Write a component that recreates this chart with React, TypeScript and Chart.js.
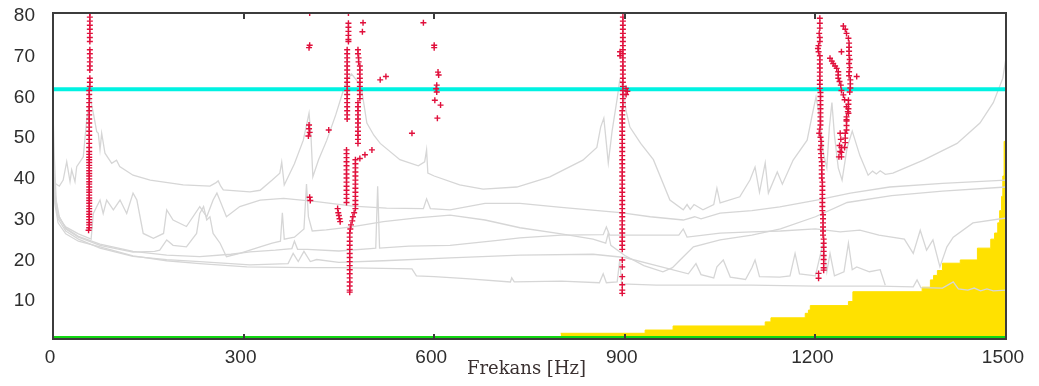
import { useEffect, useRef } from "react";
import { Chart, registerables } from "chart.js";

Chart.register(...registerables);

// ---------- axes ----------
const xMin = 0;
const xMax = 1500;
const yMin = 0;
const yMax = 80;
const xTickValues = [0, 300, 600, 900, 1200, 1500];
const yTickValues = [10, 20, 30, 40, 50, 60, 70, 80];
const xTitle = "Frekans [Hz]";

// ---------- reference levels ----------
const thresholdLevel = 61.3;
const baseLevel = 0;

// ---------- yellow stepped area: [start Hz, level] ----------
const yellowSteps: [number, number][] = [
  [799, 1.4], [932, 2.2], [976, 3.2], [1121, 4.2], [1130, 5.2], [1184, 6.3], [1189, 7.1],
  [1192, 8.2], [1252, 9.2], [1259, 11.6], [1368, 12.7], [1381, 14.5], [1386, 15.6],
  [1392, 16.8], [1400, 18.6], [1428, 19.4], [1455, 22.3], [1476, 24.5], [1482, 26],
  [1487, 28.5], [1490, 31.5], [1493, 35], [1495, 40], [1497, 48.5], [1500, 48.5],
];

// ---------- gray response curves: [Hz, value] ----------
const grayCurve1: [number, number][] = [
  [0, 39], [3, 38.2], [10, 37.5], [16, 39], [21.6, 43.5], [26.8, 38.6], [29.4, 41.5], [34.6, 38.6],
  [37.3, 42.3], [47.7, 44.7], [53, 53.7], [58.3, 59.5], [64, 55], [68.8, 50.9], [71.3, 50.5],
  [74, 46.4], [76.6, 50.5], [81.8, 45.6], [92.4, 43.1], [100, 43.9], [105, 42.3], [126, 40.2],
  [153, 39], [205, 37.8], [247, 37.5], [256, 38.3], [260, 38.8], [264, 37.5], [268, 36.6],
  [310, 36.1], [326, 36.5], [345, 39], [357, 40.7], [360, 43.4], [364, 37.8], [380, 43],
  [394, 48.8], [403, 55.4], [406, 50], [409, 39.8], [418, 44], [431, 48.8], [445, 55], [455, 60],
  [462, 63.5], [470, 65], [478, 63.5], [486, 61], [494, 53], [505, 50], [515, 48], [546, 44],
  [575, 42.5], [585, 43.5], [588, 46.4], [590, 40.7], [600, 40], [640, 37.8], [677, 36.8],
  [730, 37.3], [782, 39.8], [834, 43.9], [856, 47], [862, 52], [867, 54.2], [871, 48], [874, 43.2],
  [880, 51], [888, 59], [892, 63.5], [897, 62], [902, 56], [908, 52], [925, 48], [945, 44],
  [971, 34.1], [992, 31.7], [998, 33], [1003, 31.8], [1009, 33], [1023, 31.7], [1040, 33],
  [1045, 37], [1050, 33.4], [1081, 34.9], [1097, 39], [1105, 42.2], [1112, 36], [1121, 43.2],
  [1126, 35.8], [1140, 41], [1148, 38], [1165, 43.9], [1187, 48.8], [1195, 55], [1201, 59.4],
  [1206, 55], [1212, 46], [1218, 42], [1222, 52], [1226, 58], [1230, 50], [1236, 42], [1242, 39],
  [1250, 47], [1258, 51], [1270, 45], [1283, 40.2], [1290, 41.2], [1296, 40.5], [1302, 41.3],
  [1310, 40.4], [1322, 40.7], [1370, 43.9], [1423, 48], [1459, 53], [1480, 58], [1495, 64], [1500, 69],
];

const grayCurve2: [number, number][] = [
  [0, 44], [3, 35], [8, 30], [20, 27.5], [40, 25.8], [60, 24.5], [63.5, 30.8], [74, 34.1],
  [79, 30.8], [84.5, 34.1], [95, 31.7], [105.5, 34.1], [116, 30.8], [126, 35.8], [132, 34.1],
  [142, 25.9], [158, 24.7], [174, 25.9], [179, 31.7], [189, 29.2], [210, 27.6], [231, 32.5],
  [242, 30], [252, 34.1], [258, 35.8], [273, 30], [294, 32.5], [326, 34.1], [363, 34.5],
  [415, 33.7], [472, 32.6], [525, 32.1], [583, 32], [588, 34.4], [594, 32], [625, 31.7],
  [680, 33.3], [735, 33.3], [800, 32.3], [893, 31], [940, 30], [992, 29.2], [1010, 30],
  [1020, 29.5], [1050, 30.9], [1100, 31.5], [1144, 32.4], [1202, 34.1], [1255, 35.8],
  [1317, 37.3], [1400, 38.2], [1500, 39],
];

const grayCurve3: [number, number][] = [
  [0, 56], [2, 45], [5, 34], [10, 30], [20, 27], [40, 25], [74, 23], [126, 21.3], [160, 21.5],
  [168, 21.8], [179, 24.3], [189, 23], [210, 22.6], [226, 25.9], [231, 30.8], [237, 32.5],
  [242, 29.2], [247, 30], [252, 25.9], [263, 23.5], [273, 20.2], [294, 21], [326, 22.6],
  [345, 23.5], [358, 24], [361, 31], [364, 24.5], [380, 25], [395, 27], [399, 38], [402, 30],
  [408, 26.5], [430, 26.8], [470, 27.5], [520, 28.8], [573, 29.7], [625, 30.4], [680, 29.2],
  [735, 27.3], [800, 25.8], [850, 24.5], [870, 23.5], [874, 26], [878, 23], [900, 20.5],
  [930, 18], [960, 16.5], [975, 17.5], [987, 19.4], [1008, 22.6], [1050, 24.3], [1100, 25.5],
  [1145, 27], [1200, 30], [1250, 33.5], [1320, 35.2], [1400, 36.3], [1500, 37.3],
];

const grayCurve4: [number, number][] = [
  [0, 46], [3, 36], [8, 30.5], [20, 27.2], [40, 25.2], [74, 23.3], [126, 21.5], [179, 20.6],
  [231, 20.2], [280, 20.8], [310, 21.4], [350, 21.8], [376, 22.2], [380, 24], [385, 22],
  [400, 22], [450, 21.6], [500, 22.2], [508, 22.3], [511, 37.5], [514, 22.3], [560, 22.8],
  [625, 23], [700, 24.2], [735, 24.8],
  [800, 25.5], [866, 25.6], [871, 27.5], [876, 25.5], [920, 25.5], [985, 25.5], [992, 27],
  [998, 25], [1050, 26], [1100, 26.3], [1145, 26.5], [1200, 27], [1239, 26.3], [1270, 26.7],
  [1300, 25.5], [1340, 24.5], [1354, 21], [1365, 26.7], [1375, 21.8], [1385, 24.3],
  [1396, 17.7], [1407, 22.6], [1417, 25], [1448, 28.5], [1500, 29.7],
];

const grayCurve5: [number, number][] = [
  [0, 42], [3, 34], [8, 29.5], [20, 26.5], [40, 24.5], [74, 22.3], [126, 20.3], [179, 19.5],
  [231, 19], [310, 18.2], [370, 18.5], [378, 21], [386, 19], [395, 21.5], [405, 19], [415, 19.5],
  [450, 18.8], [520, 19.2], [625, 19.9], [735, 20.6], [850, 20.8], [900, 20], [950, 18],
  [1000, 16], [1012, 18.5], [1020, 15.8], [1040, 15], [1045, 17.7], [1055, 19.4], [1066, 15.2],
  [1090, 14.6], [1100, 17.5], [1105, 19.4], [1112, 15.3], [1144, 15.2], [1160, 15.5],
  [1168, 21], [1175, 16], [1200, 15.5], [1212, 23.5], [1218, 16.5], [1223, 21], [1230, 15.5],
  [1245, 16.5], [1252, 23.5], [1258, 17], [1265, 17.7], [1285, 16.5], [1302, 17], [1310, 13.2],
];

const grayCurve6: [number, number][] = [
  [0, 40], [3, 33], [8, 28.5], [20, 25.8], [40, 24], [74, 22.6], [126, 20.4], [179, 19.2],
  [231, 18.5], [305, 17.7], [400, 17.5], [450, 17.5], [565, 17.2], [572, 15.5], [600, 15.3],
  [650, 14.8], [720, 14], [722, 15], [726, 14], [800, 14.2], [860, 13.8], [866, 16], [871, 13.8],
  [888, 14], [892, 19.4], [895, 13.5], [950, 13.2], [1000, 13.2], [1100, 13.2], [1200, 13],
  [1300, 13], [1354, 12.8], [1360, 14.5], [1366, 12.6], [1400, 12.5], [1417, 14], [1425, 12.3],
  [1440, 12], [1450, 12.5], [1460, 11.8], [1470, 12.3], [1480, 11.8], [1500, 12],
];

// ---------- red markers: [Hz, value] ----------
const markersNear60: [number, number][] = [
  [58, 80], [58, 79], [58, 78], [58, 77], [58, 76], [58, 75], [58, 74], [58, 73], [58, 71], [58, 70],
  [58, 69], [58, 68], [58, 67], [58, 66], [58, 64], [58, 63], [58, 62], [57, 61], [57, 60], [57, 59],
  [57, 58], [57, 57], [57, 56], [57, 55], [57, 54], [57, 53], [57, 52], [57, 51], [57, 50], [57, 49],
  [57, 48], [57, 47], [57, 46], [57, 45.3], [57, 44.6], [57, 44], [57, 43.3], [57, 42.6], [57, 42],
  [57, 41.3], [57, 40.6], [57, 40], [57, 39.3], [57, 38.6], [57, 38], [57, 37.3], [57, 36.6],
  [57, 36], [57, 35.3], [57, 34.6], [57, 34], [57, 33.3], [57, 32.6], [57, 32], [57, 31.3],
  [57, 30.6], [57, 30], [57, 29.3], [57, 28.6], [57, 28], [57, 27.3], [56, 26.7],
];

const markersNear400: [number, number][] = [
  [404, 80], [404, 72.1], [403, 71.5], [403, 52.5], [403, 51.6], [404, 50.7], [402, 49.8],
  [404, 34.8], [405, 34.0], [434, 51.3], [448, 32], [449, 31], [450, 30.3], [451, 29.5], [452, 28.8],
];

const markersNear470: [number, number][] = [
  [465, 80], [465, 77.5], [465, 76.5], [465, 75.5], [465, 74.5], [465, 73.5], [465, 73],
  [463, 71], [463, 70], [463, 69], [463, 68], [463, 67], [463, 66], [463, 65], [463, 64], [463, 63],
  [463, 62], [463, 61], [463, 60], [463, 59], [463, 58], [463, 57], [463, 56], [463, 55], [463, 54],
  [462, 46.4], [462, 45.5], [462, 44.5], [462, 43.5], [462, 42.5], [462, 41.5], [462, 40.5],
  [462, 39.5], [462, 38.5], [462, 37.5], [462, 36.5], [462, 35.5], [462, 34.5], [462, 33.5],
  [469, 28], [468, 27], [467, 26], [467, 25], [467, 24], [467, 23], [467, 22], [467, 21], [467, 20],
  [467, 19], [467, 18], [467, 17], [467, 16], [467, 15], [467, 14], [467, 13], [467, 12], [467, 11.5],
  [480, 71], [480, 70], [481, 69], [481, 68], [483, 67], [483, 66], [483, 65], [483, 64], [483, 63],
  [483, 62], [483, 61], [483, 60], [483, 59], [480, 58], [480, 57], [480, 56], [480, 55], [480, 54],
  [480, 53], [480, 52], [480, 51], [480, 50], [480, 49], [480, 48],
  [476, 44], [476, 43], [476, 42], [476, 41], [476, 40], [476, 39], [476, 38], [476, 37], [476, 36],
  [476, 35], [476, 34], [476, 33], [476, 32], [474, 31], [472, 30], [471, 29],
  [483, 44.3], [491, 45.2], [502, 46.4], [488, 77.6], [487, 75.4], [515, 63.6], [524, 64.4],
];

const markersNear600: [number, number][] = [
  [583, 77.6], [565, 50.5], [600, 72.1], [600, 71.5], [606, 65.5], [607, 64.8], [604, 62.3],
  [603, 61.4], [604, 60.6], [601, 58.6], [610, 57.4], [605, 54.2],
];

const markersNear900: [number, number][] = [
  [897, 79], [897, 78], [897, 77], [897, 76], [897, 75], [897, 74], [897, 73], [897, 72], [897, 71],
  [897, 70], [897, 69], [897, 68], [897, 67], [897, 66], [897, 65], [897, 64], [897, 63], [897, 62],
  [897, 61], [897, 60], [897, 59], [897, 58], [897, 57], [896, 56], [896, 55], [896, 54], [896, 53],
  [896, 52], [896, 51], [896, 50], [896, 49], [896, 48], [896, 47], [896, 46], [896, 45], [896, 44],
  [896, 43], [896, 42], [896, 41], [896, 40], [896, 39], [896, 38], [896, 37], [896, 36], [896, 35],
  [896, 34], [896, 33], [896, 32], [896, 31], [896, 30], [896, 29], [896, 28], [896, 27], [896, 26],
  [896, 25], [896, 24], [896, 23], [896, 22], [896, 19.4], [896, 17.7], [896, 15.3], [896, 13.3],
  [896, 12], [896, 11.2], [892.5, 70.5], [892.5, 69.5], [902, 61.5], [904, 60.8], [902, 60],
];

const markersNear1210: [number, number][] = [
  [1207, 78.7], [1207, 77.5], [1207, 76.3], [1206, 75], [1207, 74], [1207, 73], [1205, 72],
  [1204, 71.3], [1205, 70.5], [1207, 69.5], [1207, 68.5], [1207, 67.5], [1207, 66.5], [1207, 65.5],
  [1207, 64.5], [1207, 63.5], [1207, 62.5], [1207, 61.5], [1208, 60.5], [1208, 59.5], [1208, 58.5],
  [1208, 57.5], [1208, 56.5], [1208, 55.5], [1208, 54.5], [1208, 53.5], [1208, 52.5], [1207, 51.5],
  [1206, 50.5], [1208, 49.5], [1209, 48.5], [1209, 47.5], [1208, 46.5], [1209, 45.5], [1209, 44.5],
  [1210, 43.5], [1210, 42.5], [1210, 41.5], [1210, 40.5], [1210, 39.5], [1211, 38.5], [1211, 37.5],
  [1211, 36.5], [1211, 35.5], [1211, 34.5], [1211, 33.5], [1211, 32.5], [1211, 31.5], [1212, 30.5],
  [1212, 29.5], [1212, 28.5], [1212, 27.5], [1212, 26.5], [1212, 25.5], [1213, 24.5], [1213, 23.5],
  [1213, 22.5], [1213, 21.5], [1213, 20.5], [1213, 19.5], [1213, 18.5], [1213, 17.5], [1213, 16.9],
  [1205, 16.1], [1205, 14.9],
];

const markersNear1250: [number, number][] = [
  [1244, 76.8], [1247, 76], [1249, 75], [1252, 73.8], [1253, 72.6], [1253, 71.6], [1253, 70.6],
  [1253, 69.6], [1254, 68.6], [1253, 67.6], [1254, 66.6], [1253, 65.6], [1253, 64.6], [1265, 64.4],
  [1255, 63.6], [1255, 62.6], [1255, 61.6], [1254, 60.6], [1252, 58.6], [1252, 57.6], [1252, 56.5],
  [1252, 55.4], [1249, 54.5], [1249, 53.5], [1249, 52.4], [1249, 51.3], [1247, 50.5], [1247, 49.3],
  [1247, 48.2], [1246, 47], [1241, 47], [1241, 45.8], [1241, 44.7], [1241, 70.5],
  [1223, 68.9], [1226, 68.2], [1228, 67.6], [1231, 67], [1233.5, 66.4], [1236, 65.6], [1236, 64.8],
  [1236, 64], [1238, 63.2], [1240, 62.3], [1241, 61], [1244, 59.9], [1246, 58.7], [1249, 57],
  [1251, 55.8], [1249, 53.8], [1239, 50.5], [1240, 49], [1238, 47.5], [1239, 46], [1237, 44.7],
];

// ---------- styling ----------
const GRAY = "#d6d6d6";
const RED = "#e0103c";
const CYAN = "#00f2e2";
const GREEN = "#12d812";
const YELLOW = "#ffe100";
const FRAME = "#3c3c3c";
const TEXT = "#2e2e2e";

const toXY = (arr: [number, number][]) => arr.map(([x, y]) => ({ x, y }));

const framePlugin = {
  id: "frameAndLabels",
  afterDatasetsDraw(chart: any) {
    const { ctx, chartArea: a, scales } = chart;
    const xs = scales.x;
    const ys = scales.y;
    ctx.save();
    ctx.strokeStyle = FRAME;
    ctx.lineWidth = 2;
    ctx.strokeRect(a.left, a.top, a.right - a.left, a.bottom - a.top);
    ctx.lineWidth = 2;
    for (const t of xTickValues) {
      if (t === xMin || t === xMax) continue;
      const px = Math.round(xs.getPixelForValue(t));
      ctx.beginPath();
      ctx.moveTo(px, a.top);
      ctx.lineTo(px, a.top + 6);
      ctx.moveTo(px, a.bottom);
      ctx.lineTo(px, a.bottom - 5);
      ctx.stroke();
    }
    ctx.fillStyle = TEXT;
    ctx.font = '19px "Liberation Sans", Arial, sans-serif';
    ctx.textAlign = "center";
    ctx.textBaseline = "middle";
    for (const t of xTickValues) {
      ctx.fillText(String(t), xs.getPixelForValue(t) - 3, a.bottom + 19);
    }
    ctx.textAlign = "right";
    for (const t of yTickValues) {
      ctx.fillText(String(t), a.left - 18, ys.getPixelForValue(t) + 3);
    }
    ctx.font = '18px "DejaVu Serif", serif';
    ctx.fillStyle = "#3a3030";
    ctx.textAlign = "center";
    ctx.fillText(xTitle, (a.left + a.right) / 2 - 3, a.bottom + 30);
    ctx.restore();
  },
};

export default function App() {
  const canvasRef = useRef<HTMLCanvasElement | null>(null);

  useEffect(() => {
    document.body.style.margin = "0";
    const canvas = canvasRef.current;
    if (!canvas) return;

    const grayCurves = [grayCurve1, grayCurve2, grayCurve3, grayCurve4, grayCurve5, grayCurve6];
    const markerGroups = [
      markersNear60, markersNear400, markersNear470, markersNear600,
      markersNear900, markersNear1210, markersNear1250,
    ];

    const datasets: any[] = [];
    markerGroups.forEach((g) =>
      datasets.push({
        data: toXY(g),
        showLine: false,
        pointStyle: "cross",
        pointRadius: 3,
        pointBorderWidth: 1.4,
        pointBorderColor: RED,
        pointBackgroundColor: RED,
        order: 0,
      })
    );
    datasets.push({
      data: toXY([[xMin, thresholdLevel], [xMax, thresholdLevel]]),
      showLine: true,
      borderColor: CYAN,
      borderWidth: 4,
      pointRadius: 0,
      order: 1,
    });
    grayCurves.forEach((c) =>
      datasets.push({
        data: toXY(c),
        showLine: true,
        borderColor: GRAY,
        borderWidth: 1.3,
        pointRadius: 0,
        tension: 0,
        order: 2,
      })
    );
    datasets.push({
      data: toXY([[xMin, baseLevel], [xMax, baseLevel]]),
      showLine: true,
      borderColor: GREEN,
      borderWidth: 6,
      pointRadius: 0,
      order: 3,
    });
    datasets.push({
      data: toXY(yellowSteps),
      showLine: true,
      stepped: "before",
      fill: "origin",
      backgroundColor: YELLOW,
      borderColor: YELLOW,
      borderWidth: 1,
      pointRadius: 0,
      order: 4,
    });

    const chart = new Chart(canvas, {
      type: "scatter",
      data: { datasets },
      options: {
        animation: false,
        responsive: false,
        devicePixelRatio: 1,
        events: [],
        layout: { padding: { left: 53, top: 13, right: 33, bottom: 47 } },
        plugins: {
          legend: { display: false },
          tooltip: { enabled: false },
          title: { display: false },
        },
        scales: {
          x: { type: "linear", min: xMin, max: xMax, display: false },
          y: { type: "linear", min: yMin, max: yMax, display: false },
        },
      },
      plugins: [framePlugin],
    });

    return () => chart.destroy();
  }, []);

  return (
    <div style={{ width: 1039, height: 386, background: "#fff" }}>
      <canvas ref={canvasRef} width={1039} height={386} style={{ display: "block" }} />
    </div>
  );
}
